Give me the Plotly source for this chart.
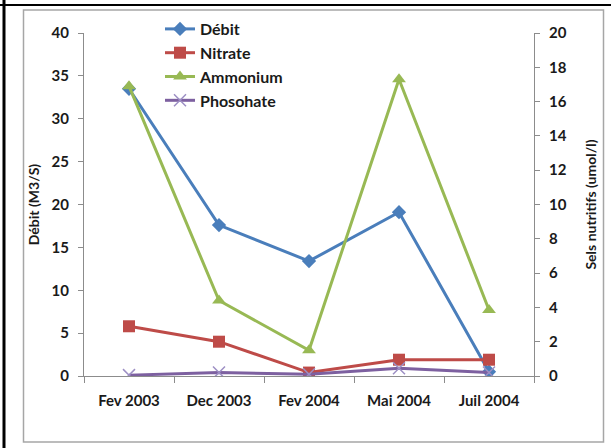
import plotly.graph_objects as go

# Sampling campaigns
categories = ["Fev 2003", "Dec 2003", "Fev 2004", "Mai 2004", "Juil 2004"]

# Discharge (M3/S), left axis
debit = [33.5, 17.6, 13.4, 19.1, 0.5]

# Nutrient salts (umol/l), right axis
nitrate = [2.9, 2.0, 0.2, 0.95, 0.95]
ammonium = [16.9, 4.4, 1.5, 17.3, 3.85]
phosphate = [0.05, 0.2, 0.1, 0.45, 0.2]

left_ticks = [0, 5, 10, 15, 20, 25, 30, 35, 40]
right_ticks = [0, 2, 4, 6, 8, 10, 12, 14, 16, 18, 20]

W, H = 611, 448
L, R, T, B = 84, 534, 33, 376

FONT = "Lato"
AXIS_GREY = "#8c8c8c"

fig = go.Figure()

fig.add_trace(go.Scatter(
    x=categories, y=debit, name="Débit", mode="lines+markers",
    line=dict(color="#4a7ebb", width=3),
    marker=dict(symbol="diamond", size=11, color="#4a7ebb"),
    legendgroup="a", yaxis="y",
))
fig.add_trace(go.Scatter(
    x=categories, y=nitrate, name="Nitrate", mode="lines+markers",
    line=dict(color="#be4b48", width=3),
    marker=dict(symbol="square", size=12, color="#be4b48"),
    legendgroup="b", yaxis="y2",
))
fig.add_trace(go.Scatter(
    x=categories, y=ammonium, name="Ammonium", mode="lines+markers",
    line=dict(color="#98b954", width=3),
    marker=dict(symbol="triangle-up", size=12, color="#98b954"),
    legendgroup="c", yaxis="y2",
))
fig.add_trace(go.Scatter(
    x=categories, y=phosphate, name="Phosohate", mode="lines+markers",
    line=dict(color="#7d60a0", width=3),
    marker=dict(symbol="x-thin", size=12, line=dict(color="#9d8fc4", width=1.5)),
    legendgroup="d", yaxis="y2",
))

def px_x(p):
    return (p - L) / (R - L)

def px_y(p):
    return (B - p) / (B - T)

shapes = [
    # outer black frame lines
    dict(type="line", xref="paper", yref="paper",
         x0=px_x(4), x1=px_x(4), y0=px_y(0), y1=px_y(H),
         line=dict(color="black", width=3)),
    dict(type="line", xref="paper", yref="paper",
         x0=px_x(0), x1=px_x(W), y0=px_y(5), y1=px_y(5),
         line=dict(color="black", width=2)),
    # light grey chart-area border
    dict(type="rect", xref="paper", yref="paper",
         x0=px_x(23.5), x1=px_x(603.5), y0=px_y(10), y1=px_y(442),
         line=dict(color="#a6a6a6", width=1.5)),
]

fig.update_layout(
    width=W, height=H,
    margin=dict(l=L, r=W - R, t=T, b=H - B, pad=0),
    paper_bgcolor="white", plot_bgcolor="white",
    font=dict(family=FONT, size=15, color="#1a1a1a"),
    showlegend=True,
    legend=dict(
        x=px_x(160), y=px_y(12), xanchor="left", yanchor="top",
        bgcolor="rgba(0,0,0,0)", font=dict(family=FONT, size=16, color="#1a1a1a", weight="bold"),
        itemwidth=30, tracegroupgap=5, traceorder="normal",
    ),
    xaxis=dict(
        type="category", categoryorder="array", categoryarray=categories,
        range=[-0.5, 4.5], showgrid=False, zeroline=False,
        showline=True, linecolor=AXIS_GREY, linewidth=1.2,
        ticks="outside", tickson="boundaries", ticklen=6, tickcolor=AXIS_GREY,
        tickfont=dict(family=FONT, size=15, weight="bold"),
        ticklabelstandoff=11,
    ),
    yaxis=dict(
        range=[0, 40], tickvals=left_ticks, showgrid=False, zeroline=False,
        showline=True, linecolor=AXIS_GREY, linewidth=1.2,
        ticks="outside", ticklen=5, tickcolor=AXIS_GREY,
        tickfont=dict(family=FONT, size=15, weight="bold"),
        ticklabelstandoff=6,
        title=dict(text="Débit (M3/S)", font=dict(family=FONT, size=14, weight="bold"), standoff=8),
    ),
    yaxis2=dict(
        range=[0, 20], tickvals=right_ticks, overlaying="y", side="right",
        showgrid=False, zeroline=False,
        showline=True, linecolor=AXIS_GREY, linewidth=1.2,
        ticks="outside", ticklen=5, tickcolor=AXIS_GREY,
        tickfont=dict(family=FONT, size=15, weight="bold"),
        ticklabelstandoff=6,
        title=dict(text="Sels nutritifs (umol/l)", font=dict(family=FONT, size=14, weight="bold"), standoff=20),
    ),
    shapes=shapes,
)

fig.write_html("out.html")
